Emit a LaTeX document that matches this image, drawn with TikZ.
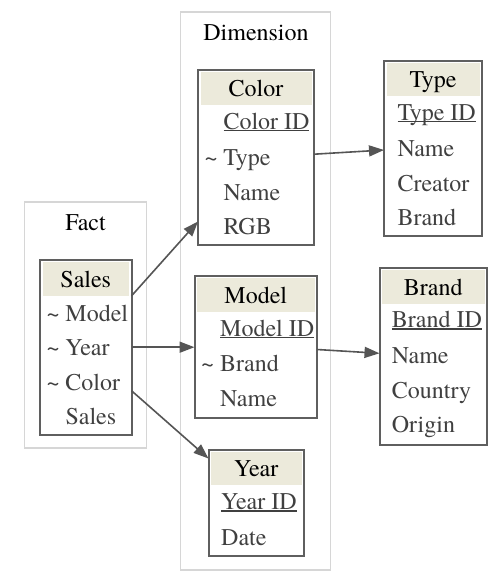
\documentclass[tikz,border=0pt]{standalone}
\usepackage{fontspec}
\setmainfont{TeX Gyre Termes}
\usetikzlibrary{arrows.meta, calc}

\definecolor{hdrfill}{HTML}{ECEADB}
\definecolor{framegray}{HTML}{5F5F5F}
\definecolor{fieldtxt}{HTML}{404040}
\definecolor{clusterline}{HTML}{D6D6D6}
\definecolor{arrowgray}{HTML}{555555}

\tikzset{
  cluster/.style = {rectangle, draw=clusterline, line width=1.5pt, outer sep=0pt},
  clusterlabel/.style = {inner sep=0pt, anchor=base},
  tbl/.style = {rectangle, draw=framegray, line width=2pt, outer sep=0pt},
  hdr/.style = {rectangle, fill=hdrfill, inner sep=0pt, minimum height=33.5pt,
    text height=17pt, text depth=0pt, anchor=north, yshift=-2pt},
  fld/.style = {inner sep=0pt, text height=17pt, text depth=0pt, anchor=base west, text=fieldtxt},
  arrow/.style = {draw=arrowgray, line width=1.6pt, -{Triangle[length=15pt, width=11pt]}}
}
\newcommand{\fk}{\llap{\textasciitilde\ }}
\newcommand{\pk}[1]{\setbox0\hbox{#1}\rlap{\rule[-2.3pt]{\wd0}{1.4pt}}\box0}

\begin{document}
\begin{tikzpicture}[x=1pt, y=-1pt, font=\rmfamily\fontsize{24pt}{28pt}\selectfont]
    \useasboundingbox (0,0) rectangle (502,579);

    %Clusters
    \node (factbox) [cluster, minimum width=122pt, minimum height=246pt] at (85.5,325) {};
    \node (factlabel) [clusterlabel] at (85.5,230.7) {Fact};
    \node (dimbox) [cluster, minimum width=150pt, minimum height=558pt] at (255.5,291) {};
    \node (dimlabel) [clusterlabel] at (256,40) {Dimension};

    %Sales
    \node (sales) [tbl, minimum width=91.5pt, minimum height=175pt] at (85.75,347.5) {};
    \node (salesT) [hdr, minimum width=86.5pt] at (sales.north) {Sales};
    \node (sModel) [fld] at (65.3,321) {\fk Model};
    \node (sYear) [fld] at (65.3,355.7) {\fk Year};
    \node (sColor) [fld] at (65.3,390.7) {\fk Color};
    \node (sSales) [fld] at (65.3,424.5) {Sales};

    %Color
    \node (color) [tbl, minimum width=116pt, minimum height=175.5pt] at (256,157.25) {};
    \node (colorT) [hdr, minimum width=111pt] at (color.north) {Color};
    \node (cID) [fld] at (223.3,129) {\pk{Color ID}};
    \node (cType) [fld] at (223.3,165.7) {\fk Type};
    \node (cName) [fld] at (223.3,200) {Name};
    \node (cRGB) [fld] at (223.3,234) {RGB};

    %Model
    \node (model) [tbl, minimum width=122.5pt, minimum height=141.5pt] at (255.75,346.75) {};
    \node (modelT) [hdr, minimum width=117.5pt] at (model.north) {Model};
    \node (mID) [fld] at (220,336) {\pk{Model ID}};
    \node (mBrand) [fld] at (220,371.7) {\fk Brand};
    \node (mName) [fld] at (220,406.7) {Name};

    %Year
    \node (year) [tbl, minimum width=95.5pt, minimum height=106.5pt] at (256.25,502.75) {};
    \node (yearT) [hdr, minimum width=90.5pt] at (year.north) {Year};
    \node (yID) [fld] at (221,509.3) {\pk{Year ID}};
    \node (yDate) [fld] at (221,545) {Date};

    %Type
    \node (type) [tbl, minimum width=98pt, minimum height=175.5pt] at (433,148.25) {};
    \node (typeT) [hdr, minimum width=93pt] at (type.north) {Type};
    \node (tID) [fld] at (397.3,120) {\pk{Type ID}};
    \node (tName) [fld] at (397.3,156) {Name};
    \node (tCreator) [fld] at (397.3,191.7) {Creator};
    \node (tBrand) [fld] at (397.3,225.7) {Brand};

    %Brand
    \node (brand) [tbl, minimum width=107.5pt, minimum height=176.5pt] at (433.25,356.25) {};
    \node (brandT) [hdr, minimum width=102.5pt] at (brand.north) {Brand};
    \node (bID) [fld] at (391.7,327.3) {\pk{Brand ID}};
    \node (bName) [fld] at (391.7,363.3) {Name};
    \node (bCountry) [fld] at (391.7,398.3) {Country};
    \node (bOrigin) [fld] at (391.7,432.7) {Origin};

    %Arrows
    \draw [arrow] (sales.east |- salesT.south) -- ($(color.west |- cRGB.center)+(0pt,4pt)$);
    \draw [arrow] (sales.east |- sYear.center) -- (model.west |- sYear.center);
    \draw [arrow] (sales.east |- sColor.base) -- ($(year.north west)+(0pt,-9pt)$);
    \draw [arrow] ($(color.east |- cType.center)+(0pt,3pt)$) -- ($(type.west |- tName.center)+(0pt,-2.5pt)$);
    \draw [arrow] ($(model.east |- mBrand.north)+(0pt,5pt)$) -- ($(brand.west |- bName.center)+(0pt,1.5pt)$);

\end{tikzpicture}
\end{document}
